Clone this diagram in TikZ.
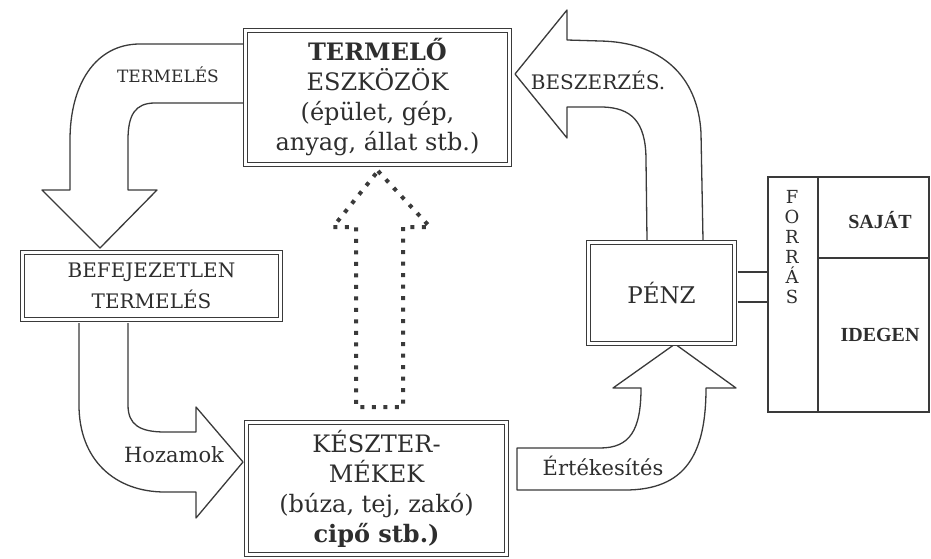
\documentclass[tikz,border=0pt]{standalone}
\usepackage{fontspec}
\setmainfont{DejaVu Serif}
\newfontfamily\timesb{Liberation Serif}
\definecolor{ink}{HTML}{3A3A3A}
\definecolor{txt}{HTML}{2E2E2E}
\begin{document}
\begin{tikzpicture}[x=1pt,y=-1pt,
  dbox/.style={draw=ink, double=white, double distance=3pt, line width=1.2pt,
    rectangle, inner sep=0pt, align=center, text=txt},
  blockarrow/.style={draw=ink, line width=1.3pt, fill=white, line join=round},
  dotarrow/.style={draw=ink, line width=4pt, dash pattern=on 4pt off 7.5pt, line join=miter},
  plain/.style={draw=ink, line width=1.3pt},
  lbl/.style={text=txt, inner sep=0pt, align=center}]
\useasboundingbox (0,0) rectangle (931,559);

% block arrows
\filldraw[blockarrow] (243,44) -- (140,44) .. controls (95,44) and (70,85) .. (70,140)
  -- (70,190) -- (42,190) -- (100,248) -- (157,190) -- (128,190) -- (128,140)
  .. controls (128,115) and (135,103) .. (155,103) -- (243,103);
\filldraw[blockarrow] (79,323) -- (79,405) .. controls (79,460) and (115,492) .. (165,492)
  -- (196,492) -- (196,518) -- (243,462) -- (196,407) -- (196,432) -- (165,432)
  .. controls (140,432) and (128,425) .. (128,405) -- (128,323);
\filldraw[blockarrow] (517,490) -- (625,490) .. controls (685,490) and (706,455) .. (706,388)
  -- (736,388) -- (675,344) -- (613,388) -- (641,388)
  .. controls (641,430) and (630,448) .. (600,448) -- (517,448) -- cycle;
\filldraw[blockarrow] (703,240) -- (701,133) .. controls (698,75) and (660,42) .. (600,41)
  -- (567,40) -- (567,10) -- (515,74) -- (567,138) -- (567,107) -- (603,107)
  .. controls (630,108) and (646,120) .. (646,160) -- (647,240);
\draw[dotarrow] (378,171) -- (430,227) -- (403,227) -- (403,407) -- (356,407)
  -- (356,227) -- (333,227) -- cycle;

% boxes
\node[dbox, minimum width=263.6, minimum height=133.6, font=\fontsize{24}{30}\selectfont]
  (eszk) at (377.5,97.5) {\textbf{TERMELŐ}\\ESZKÖZÖK\\(épület, gép,\\anyag, állat stb.)};
\node[dbox, minimum width=257.6, minimum height=66.6, font=\fontsize{20}{31}\selectfont]
  (befej) at (151.5,286) {BEFEJEZETLEN\\TERMELÉS};
\node[dbox, minimum width=259.6, minimum height=131.6, font=\fontsize{24}{30}\selectfont]
  (kesz) at (376.5,488.5) {KÉSZTER-\\MÉKEK\\(búza, tej, zakó)\\\textbf{cipő stb.)}};
\node[dbox, minimum width=145.6, minimum height=100.6, font=\fontsize{23}{28}\selectfont]
  (penz) at (661.5,293) {PÉNZ};
\node[plain, rectangle, inner sep=0pt, minimum width=161, minimum height=235]
  (forras) at (848.5,294.5) {};
\draw[plain] (818,177) -- (818,412);
\draw[plain] (818,258) -- (929,258);
\draw[plain] ([xshift=2.7pt,yshift=21pt]penz.east) -- ([yshift=21pt]penz.east -| forras.west);
\draw[plain] ([xshift=2.7pt,yshift=-9pt]penz.east) -- ([yshift=-9pt]penz.east -| forras.west);

% labels
\node[lbl, font=\fontsize{18}{20}\selectfont] (fl) at (792,247) {F\\O\\R\\R\\Á\\S};
\node[lbl, font=\timesb\bfseries\fontsize{20}{24}\selectfont] (sajat) at (880,220) {SAJÁT};
\node[lbl, font=\timesb\bfseries\fontsize{20}{24}\selectfont] (idegen) at (880,335) {IDEGEN};
\node[lbl, font=\fontsize{17}{20}\selectfont] (termeles) at (168,75) {TERMELÉS};
\node[lbl, font=\fontsize{20}{24}\selectfont] (beszerzes) at (598,80) {BESZERZÉS.};
\node[lbl, font=\fontsize{21}{24}\selectfont] (hozamok) at (174,455) {Hozamok};
\node[lbl, font=\fontsize{21}{24}\selectfont] (ertek) at (603,466) {Értékesítés};
\end{tikzpicture}
\end{document}
